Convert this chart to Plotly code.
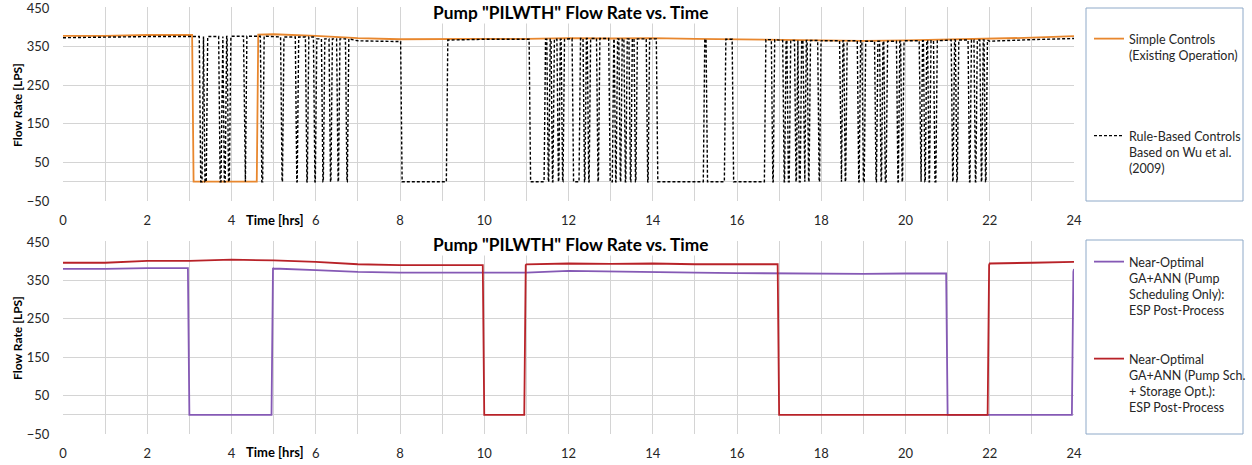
import plotly.graph_objects as go
from plotly.subplots import make_subplots

# ---------------- data ----------------
hours = list(range(25))

# on-level of each series at each hour [LPS]
simple_level = [378, 378, 380, 380, 381, 382, 378, 372, 369, 370, 370, 370, 372,
                371, 372, 370, 369, 368, 366, 365, 366, 368, 370, 373, 377]
rule_level = [373, 375, 376, 376, 377, 375, 370, 365, 363, 367, 369, 369, 371,
              370, 370, 369, 368, 366, 365, 364, 365, 367, 364, 368, 371]
ga_pump_level = [380, 380, 382, 382, 382, 381, 377, 372, 370, 370, 370, 370, 375,
                 373, 372, 370, 369, 368, 368, 367, 368, 369, 369, 372, 380]
ga_storage_level = [396, 396, 401, 401, 404, 402, 398, 392, 390, 390, 390, 392, 394,
                    393, 394, 392, 392, 390, 390, 390, 390, 390, 394, 396, 398]

# periods with the pump off (flow = 0) [hrs]: (start, end)
simple_off = [(3.10, 4.60)]
rule_off = [
    (3.27, 3.30), (3.37, 3.40), (3.73, 3.75), (3.83, 3.85), (3.93, 3.95), (4.32, 4.33),
    (4.72, 4.74), (5.20, 5.21), (5.55, 5.56), (5.79, 5.80), (5.98, 5.99), (6.17, 6.18),
    (6.35, 6.36), (6.53, 6.54), (6.74, 6.75),
    (8.05, 9.10),
    (11.10, 11.42), (11.52, 11.53), (11.62, 11.63), (11.76, 11.77), (11.86, 11.87),
    (12.12, 12.25), (12.38, 12.39), (12.48, 12.49), (12.70, 12.71), (12.99, 13.04),
    (13.12, 13.13), (13.23, 13.24), (13.35, 13.36), (13.47, 13.48), (13.59, 13.60),
    (13.88, 13.89), (14.12, 15.20), (15.30, 15.70), (15.92, 16.65), (16.85, 16.86),
    (17.12, 17.13), (17.22, 17.24), (17.40, 17.41), (17.48, 17.50), (17.60, 17.61),
    (17.70, 17.71), (17.95, 17.96), (18.47, 18.48), (18.57, 18.58), (18.89, 18.90),
    (19.00, 19.02), (19.30, 19.31), (19.42, 19.43), (19.52, 19.54), (19.82, 19.83),
    (19.92, 19.93), (20.36, 20.37), (20.46, 20.47), (20.56, 20.57), (20.70, 20.72),
    (21.12, 21.13), (21.22, 21.23), (21.52, 21.53), (21.66, 21.67), (21.80, 21.81),
    (21.90, 21.91),
]
ga_pump_off = [(3.00, 4.95), (21.00, 23.95)]
ga_storage_off = [(10.00, 10.95), (17.00, 21.95)]

x_ticks = [0, 2, 4, 6, 8, 10, 12, 14, 16, 18, 20, 22, 24]
y_ticks = [-50, 50, 150, 250, 350, 450]

names = {
    "simple": "Simple Controls<br>(Existing Operation)",
    "rule": "Rule-Based Controls<br>Based on Wu et al.<br>(2009)",
    "ga_pump": "Near-Optimal<br>GA+ANN (Pump<br>Scheduling Only):<br>ESP Post-Process",
    "ga_storage": "Near-Optimal<br>GA+ANN (Pump Sch.<br>+ Storage Opt.):<br>ESP Post-Process",
}
title_text = 'Pump "PILWTH" Flow Rate vs. Time'


def series(levels, off, ramp=0.035, end=24):
    """Build the polyline of an on/off pump record from hourly on-levels and off periods."""
    xs, ys = [], []

    def on_segment(t0, t1):
        xs.append(t0)
        ys.append(levels[min(int(t0), 24)])
        h = int(t0) + 1
        while h < t1:
            xs.append(h)
            ys.append(levels[h])
            h += 1
        xs.append(t1)
        ys.append(levels[min(int(t1), 24)])

    t = 0.0
    for a, b in off:
        on_segment(t, a - ramp)
        xs.extend([a, b])
        ys.extend([0, 0])
        t = b + ramp
    if t <= end:
        on_segment(t, end)
    return xs, ys


FONT = "Lato"
GRID = "#D4D4D4"
TXT = "#262626"

W, H = 1252, 465


def PX(X):
    return X / W


def PY(Y):
    return 1 - Y / H


fig = make_subplots(rows=2, cols=1, vertical_spacing=0.09)

sx, sy = series(simple_level, simple_off)
rx, ry = series(rule_level, rule_off)
px_, py_ = series(ga_pump_level, ga_pump_off)
qx, qy = series(ga_storage_level, ga_storage_off)

fig.add_trace(go.Scatter(x=sx, y=sy, mode="lines", name=names["simple"],
                         line=dict(color="#E8872E", width=1.8), legend="legend"), row=1, col=1)
fig.add_trace(go.Scatter(x=rx, y=ry, mode="lines", name=names["rule"],
                         line=dict(color="#000000", width=1.4, dash="3px,2px"),
                         legend="legend2"), row=1, col=1)
fig.add_trace(go.Scatter(x=px_, y=py_, mode="lines", name=names["ga_pump"],
                         line=dict(color="#8559B5", width=1.8), legend="legend3"), row=2, col=1)
fig.add_trace(go.Scatter(x=qx, y=qy, mode="lines", name=names["ga_storage"],
                         line=dict(color="#B82228", width=1.8), legend="legend4"), row=2, col=1)

# plot areas: y = 450 at screen row 8 / 242, y = -50 at 201 / 434
k_top = (201 - 8) / 500.0
k_bot = (434 - 242) / 500.0
Y_MAX = 452
top_dom = [PY(201), PY(8 - (Y_MAX - 450) * k_top)]
bot_dom = [PY(434), PY(242 - (Y_MAX - 450) * k_bot)]

axis_x = dict(range=[0, 24], tickvals=x_ticks, showgrid=True, gridcolor=GRID, gridwidth=1,
              minor=dict(dtick=1, showgrid=True, gridcolor=GRID, gridwidth=1),
              zeroline=False, showline=False, ticks="outside", ticklen=7,
              tickcolor="rgba(0,0,0,0)", tickfont=dict(family=FONT, size=13, color=TXT),
              domain=[PX(63), PX(1074)], automargin=False, fixedrange=True)
axis_y = dict(range=[-50, Y_MAX], tickvals=y_ticks, showgrid=True, gridcolor=GRID, gridwidth=1,
              zeroline=True, zerolinecolor=GRID, zerolinewidth=1, showline=False,
              ticks="outside", ticklen=10, tickcolor="rgba(0,0,0,0)",
              ticklabeloverflow="allow",
              tickfont=dict(family=FONT, size=13, color=TXT), automargin=False, fixedrange=True)

fig.update_layout(
    width=W, height=H,
    margin=dict(l=0, r=0, t=0, b=0),
    paper_bgcolor="white", plot_bgcolor="white",
    xaxis=dict(axis_x), xaxis2=dict(axis_x),
    yaxis=dict(axis_y, domain=top_dom), yaxis2=dict(axis_y, domain=bot_dom),
    font=dict(family=FONT, color=TXT),
    showlegend=True,
)

leg_common = dict(xanchor="left", yanchor="top", bgcolor="rgba(0,0,0,0)", borderwidth=0,
                  font=dict(family=FONT, size=12.5, color=TXT), valign="top",
                  itemwidth=30, tracegroupgap=0, visible=True)
fig.update_layout(
    legend=dict(leg_common, x=PX(1089), y=PY(24)),
    legend2=dict(leg_common, x=PX(1089), y=PY(121)),
    legend3=dict(leg_common, x=PX(1089), y=PY(247)),
    legend4=dict(leg_common, x=PX(1089), y=PY(344)),
)

# legend frames
for (ya, yb) in [(8, 201), (240, 434)]:
    fig.add_shape(type="rect", xref="paper", yref="paper",
                  x0=PX(1086), x1=PX(1243), y0=PY(yb), y1=PY(ya),
                  line=dict(color="#8EA9C8", width=1), fillcolor="rgba(0,0,0,0)")

# titles and axis titles
for ytop, ymid, ybot in [(13, 105, 220), (244, 338, 452)]:
    fig.add_annotation(text="<b>" + title_text + "</b>", xref="paper", yref="paper",
                       x=PX(570), y=PY(ytop), xanchor="center", yanchor="middle",
                       showarrow=False, bgcolor="white", borderpad=0,
                       font=dict(family=FONT, size=17.3, color="#000000"))
    fig.add_annotation(text="<b>Flow Rate [LPS]</b>", xref="paper", yref="paper",
                       x=PX(17), y=PY(ymid), xanchor="center", yanchor="middle",
                       textangle=-90, showarrow=False,
                       font=dict(family=FONT, size=12, color="#000000"))
    fig.add_annotation(text="<b>Time [hrs]</b>", xref="paper", yref="paper",
                       x=PX(275), y=PY(ybot), xanchor="center", yanchor="middle",
                       showarrow=False, bgcolor="white",
                       font=dict(family=FONT, size=13, color="#000000"))

# remove the default 8px page margin so the figure fills the window exactly
fig.write_html("out.html", config={"displayModeBar": False},
               post_script="document.body.style.margin='0px';")
